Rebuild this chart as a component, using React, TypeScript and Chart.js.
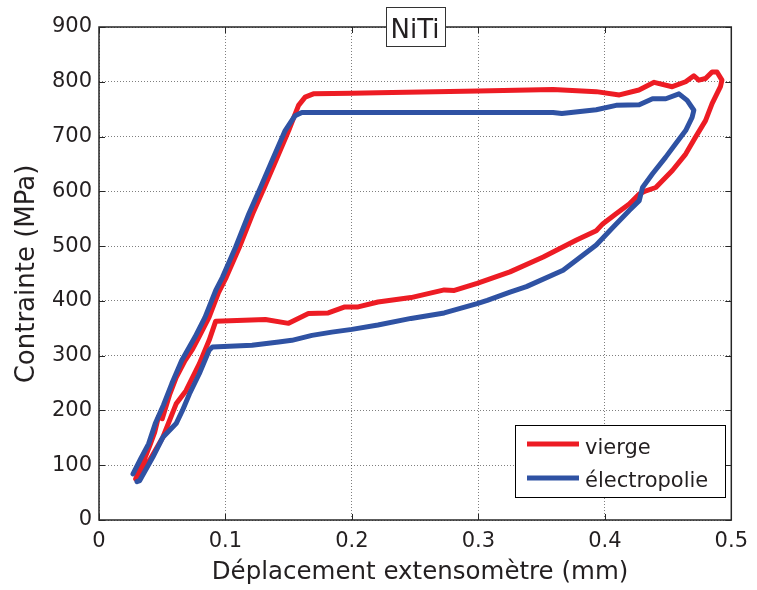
import { useEffect, useRef } from 'react';
import { Chart, registerables } from 'chart.js';

Chart.register(...registerables);

const chartTitle = 'NiTi';
const xAxisTitle = 'Déplacement extensomètre (mm)';
const yAxisTitle = 'Contrainte (MPa)';
const seriesLabels = ['vierge', 'électropolie'];
const xTickValues = [0, 0.1, 0.2, 0.3, 0.4, 0.5];
const xTickLabels = ['0', '0.1', '0.2', '0.3', '0.4', '0.5'];
const yTickValues = [0, 100, 200, 300, 400, 500, 600, 700, 800, 900];
const yTickLabels = ['0', '100', '200', '300', '400', '500', '600', '700', '800', '900'];

// vierge (red): loading, upper plateau, tip, unloading, lower plateau, return
const viergeX = [
  0.029, 0.034, 0.040, 0.044, 0.047, 0.050, 0.056, 0.061, 0.068, 0.074, 0.079, 0.087, 0.0945,
  0.1006, 0.111, 0.1215, 0.1307, 0.1398, 0.150, 0.1578, 0.163, 0.1695,
  0.200, 0.2206, 0.300, 0.359, 0.3932, 0.4115, 0.427, 0.439, 0.4533, 0.4639, 0.4704, 0.4743,
  0.4796, 0.4848, 0.4887, 0.4926, 0.4914,
  0.4848, 0.4796, 0.4717, 0.4639, 0.4534, 0.4403, 0.4325, 0.4272, 0.4193, 0.4089, 0.3985,
  0.3932, 0.3776, 0.3513, 0.325, 0.299, 0.281, 0.273, 0.2467, 0.2206, 0.2049, 0.1944, 0.1813,
  0.1656, 0.1499, 0.1316, 0.0923,
  0.0871, 0.0793, 0.0688, 0.061, 0.0505, 0.040, 0.0296,
];
const viergeY = [
  75, 100, 135, 160, 188, 185, 230, 260, 291, 312, 334, 370, 415,
  443, 498, 559, 607, 656, 711, 757, 772, 778,
  779, 780, 783, 786, 782, 776, 785, 799, 791, 800, 811, 803,
  806, 818, 818, 803, 791,
  760, 729, 699, 668, 638, 607, 601, 595, 577, 559, 541,
  528, 511, 480, 453, 432, 419, 420, 406, 398, 389, 389, 378,
  377, 359, 366, 363,
  328, 285, 236, 212, 151, 109, 78,
];

// électropolie (blue)
const electroX = [
  0.0269, 0.033, 0.0392, 0.0445, 0.051, 0.0576, 0.0654, 0.0759, 0.0838, 0.0923,
  0.0976, 0.108, 0.1185, 0.1277, 0.1368, 0.1472, 0.155, 0.1604,
  0.2206, 0.300, 0.359, 0.366, 0.3932, 0.4089, 0.4272, 0.4377, 0.4482, 0.4586, 0.4651, 0.4704,
  0.469,
  0.4639, 0.456, 0.448, 0.4377, 0.4298, 0.4272, 0.4193, 0.4063, 0.3932, 0.367, 0.338, 0.325,
  0.307, 0.299, 0.273, 0.2467, 0.2206, 0.200, 0.1841, 0.1684, 0.1525, 0.1421, 0.121, 0.0897,
  0.0871, 0.0793, 0.0715, 0.066, 0.061, 0.0505, 0.0426, 0.0322, 0.030,
];
const electroY = [
  84, 112, 139, 176, 210, 249, 291, 334, 370, 419,
  443, 498, 559, 607, 656, 711, 738, 744,
  744, 744, 744, 742, 749, 757, 758, 769, 769, 778, 766, 748,
  735,
  711, 687, 662, 632, 607, 583, 565, 534, 502, 456, 426, 416,
  401, 395, 378, 368, 356, 348, 343, 337, 328, 325, 319, 316,
  310, 267, 230, 200, 176, 151, 115, 72, 70,
];

const viergeColor = '#ED1C24';
const electroColor = '#2F52A3';
const textColor = '#231f20';
const FONT = "'DejaVu Sans', sans-serif";

const toPoints = (xs: number[], ys: number[]) => xs.map((x, i) => ({ x, y: ys[i] }));

const framePlugin = {
  id: 'frame',
  afterDraw(chart: any) {
    const { ctx, chartArea: a, scales } = chart;
    ctx.save();
    // axes box
    ctx.strokeStyle = '#262626';
    ctx.lineWidth = 1.5;
    ctx.strokeRect(a.left, a.top, a.right - a.left, a.bottom - a.top);
    // inward ticks on all four sides
    ctx.lineWidth = 1;
    const tl = 6;
    ctx.beginPath();
    xTickValues.forEach((v) => {
      const px = Math.round(scales.x.getPixelForValue(v)) + 0.5;
      ctx.moveTo(px, a.bottom);
      ctx.lineTo(px, a.bottom - tl);
      ctx.moveTo(px, a.top);
      ctx.lineTo(px, a.top + tl);
    });
    yTickValues.forEach((v) => {
      const py = Math.round(scales.y.getPixelForValue(v)) + 0.5;
      ctx.moveTo(a.left, py);
      ctx.lineTo(a.left + tl, py);
      ctx.moveTo(a.right, py);
      ctx.lineTo(a.right - tl, py);
    });
    ctx.stroke();

    // title box
    ctx.font = `26px ${FONT}`;
    const tw = ctx.measureText(chartTitle).width;
    const tcx = 415;
    const bx = Math.round(tcx - tw / 2 - 5) + 0.5;
    const bw = Math.round(tw + 10);
    ctx.fillStyle = '#ffffff';
    ctx.fillRect(bx, 7.5, bw, 39);
    ctx.strokeStyle = '#333333';
    ctx.lineWidth = 1;
    ctx.strokeRect(bx, 7.5, bw, 39);
    ctx.fillStyle = textColor;
    ctx.textAlign = 'center';
    ctx.textBaseline = 'alphabetic';
    ctx.fillText(chartTitle, tcx, 38);

    // legend
    ctx.fillStyle = '#ffffff';
    ctx.fillRect(515.5, 425.5, 210, 72);
    ctx.strokeStyle = '#000000';
    ctx.lineWidth = 1;
    ctx.strokeRect(515.5, 425.5, 210, 72);
    const legendRows = [
      { label: seriesLabels[0], color: viergeColor, y: 444, base: 453.5 },
      { label: seriesLabels[1], color: electroColor, y: 478, base: 487 },
    ];
    legendRows.forEach((r) => {
      ctx.strokeStyle = r.color;
      ctx.lineWidth = 5;
      ctx.beginPath();
      ctx.moveTo(527, r.y);
      ctx.lineTo(579, r.y);
      ctx.stroke();
      ctx.fillStyle = textColor;
      ctx.font = `21px ${FONT}`;
      ctx.textAlign = 'left';
      ctx.textBaseline = 'alphabetic';
      ctx.fillText(r.label, 585, r.base);
    });

    // axis titles
    ctx.fillStyle = textColor;
    ctx.font = `24.5px ${FONT}`;
    ctx.textAlign = 'center';
    ctx.textBaseline = 'alphabetic';
    ctx.fillText(xAxisTitle, 420, 579);

    ctx.save();
    ctx.translate(33.5, 274);
    ctx.rotate(-Math.PI / 2);
    ctx.font = `26px ${FONT}`;
    ctx.fillText(yAxisTitle, 0, 0);
    ctx.restore();

    ctx.restore();
  },
};

export default function App() {
  const canvasRef = useRef<HTMLCanvasElement | null>(null);

  useEffect(() => {
    if (!canvasRef.current) return;
    const chart = new Chart(canvasRef.current, {
      type: 'scatter',
      data: {
        datasets: [
          {
            label: seriesLabels[0],
            data: toPoints(viergeX, viergeY),
            showLine: true,
            borderColor: viergeColor,
            backgroundColor: viergeColor,
            borderWidth: 5,
            pointRadius: 0,
            borderJoinStyle: 'round',
            borderCapStyle: 'round',
            tension: 0,
            order: 1,
          },
          {
            label: seriesLabels[1],
            data: toPoints(electroX, electroY),
            showLine: true,
            borderColor: electroColor,
            backgroundColor: electroColor,
            borderWidth: 5,
            pointRadius: 0,
            borderJoinStyle: 'round',
            borderCapStyle: 'round',
            tension: 0,
            order: 0,
          },
        ],
      },
      options: {
        animation: false,
        responsive: false,
        devicePixelRatio: 1,
        layout: { padding: { top: 27, right: 21, left: 0, bottom: 0 }, autoPadding: false },
        plugins: {
          legend: { display: false },
          title: { display: false },
          tooltip: { enabled: false },
        },
        scales: {
          x: {
            type: 'linear',
            min: 0,
            max: 0.5,
            afterBuildTicks: (axis: any) => {
              axis.ticks = xTickValues.map((v) => ({ value: v }));
            },
            afterFit: (s: any) => {
              s.height = 70;
            },
            ticks: {
              autoSkip: false,
              maxRotation: 0,
              padding: 9,
              color: textColor,
              font: { family: FONT, size: 21 },
              callback: (v: any) => {
                const i = xTickValues.findIndex((t) => Math.abs(t - v) < 1e-9);
                return i >= 0 ? xTickLabels[i] : '';
              },
            },
            grid: { color: 'rgba(0,0,0,0.5)', lineWidth: 1, drawTicks: false },
            border: { display: false, dash: [1, 2] },
          },
          y: {
            type: 'linear',
            min: 0,
            max: 900,
            afterBuildTicks: (axis: any) => {
              axis.ticks = yTickValues.map((v) => ({ value: v }));
            },
            afterFit: (s: any) => {
              s.width = 99;
            },
            ticks: {
              autoSkip: false,
              padding: 7,
              color: textColor,
              font: { family: FONT, size: 21 },
              callback: (v: any) => {
                const i = yTickValues.indexOf(v);
                return i >= 0 ? yTickLabels[i] : '';
              },
            },
            grid: { color: 'rgba(0,0,0,0.5)', lineWidth: 1, drawTicks: false },
            border: { display: false, dash: [1, 2] },
          },
        },
      },
      plugins: [framePlugin],
    });
    return () => chart.destroy();
  }, []);

  return (
    <div style={{ position: 'fixed', left: 0, top: 0, width: 757, height: 590, background: '#fff' }}>
      <canvas ref={canvasRef} width={757} height={590} style={{ display: 'block' }} />
    </div>
  );
}
